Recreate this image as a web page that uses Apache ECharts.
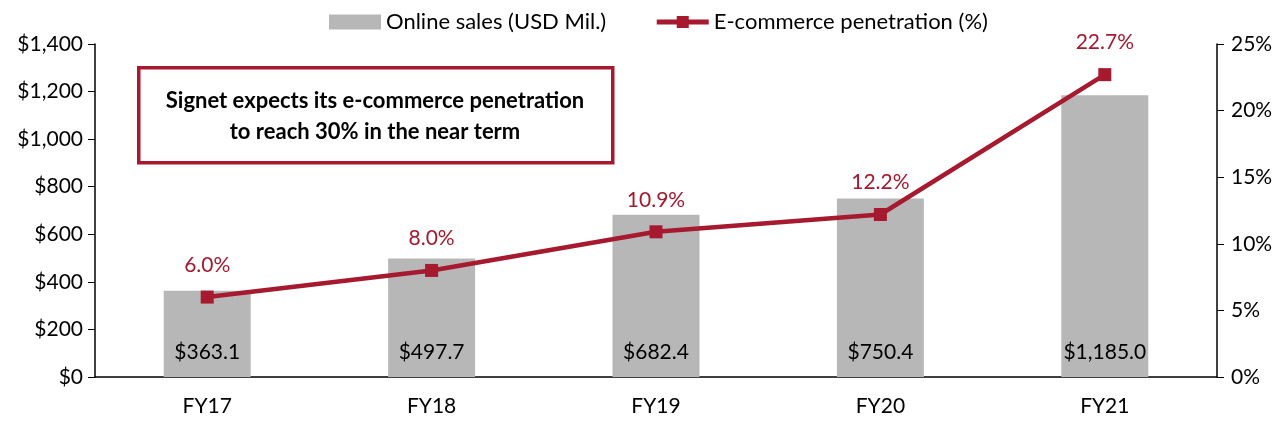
<!DOCTYPE html>
<html><head><meta charset="utf-8">
<script src="https://cdn.jsdelivr.net/npm/echarts@6/dist/echarts.min.js"></script>
<style>html,body{margin:0;padding:0;background:#fff}#c{width:1288px;height:426px}</style>
</head><body><div id="c"></div>
<script>
const categories = ['FY17','FY18','FY19','FY20','FY21'];
const onlineSales = [363.1, 497.7, 682.4, 750.4, 1185.0];
const penetration = [6.0, 8.0, 10.9, 12.2, 22.7];
const seriesNames = ['Online sales (USD Mil.)', 'E-commerce penetration (%)'];
const noteLines = ['Signet expects its e-commerce penetration', 'to reach 30% in the near term'];

const FONT = 'Lato, "Open Sans", sans-serif';
const RED = '#A6192E';
const chart = echarts.init(document.getElementById('c'));
chart.setOption({
  animation: false,
  textStyle: {fontFamily: FONT},
  grid: {left: 95, right: 71, top: 44, bottom: 49},
  legend: {
    top: 6, left: 324, itemGap: 48, itemWidth: 52, itemHeight: 15,
    textStyle: {fontSize: 22, color: '#000', fontFamily: FONT},
    data: [
      {name: seriesNames[0], icon: 'rect'},
      {name: seriesNames[1], lineStyle: {width: 5, color: RED}, itemStyle: {color: RED}}
    ]
  },
  xAxis: {
    type: 'category', data: categories,
    axisLine: {lineStyle: {color: '#000', width: 1.5}},
    axisTick: {show: false},
    axisLabel: {color: '#000', fontSize: 21, margin: 19, fontFamily: FONT}
  },
  yAxis: [
    {type: 'value', min: 0, max: 1400, interval: 200,
     axisLine: {show: true, lineStyle: {color: '#000', width: 1.5}},
     axisTick: {show: true, length: 7, lineStyle: {color: '#000'}},
     splitLine: {show: false},
     axisLabel: {color: '#000', fontSize: 21, margin: 12, fontFamily: FONT,
       formatter: v => '$' + v.toLocaleString('en-US')}},
    {type: 'value', min: 0, max: 25, interval: 5,
     axisLine: {show: true, lineStyle: {color: '#000', width: 1.5}},
     axisTick: {show: true, length: 7, lineStyle: {color: '#000'}},
     splitLine: {show: false},
     axisLabel: {color: '#000', fontSize: 21, margin: 14, fontFamily: FONT,
       formatter: v => v + '%'}}
  ],
  series: [
    {name: seriesNames[0], type: 'bar', data: onlineSales, barWidth: 87,
     itemStyle: {color: '#b7b7b7'},
     label: {show: true, position: 'insideBottom', distance: 14, color: '#000', fontSize: 21, fontFamily: FONT,
       formatter: p => '$' + p.value.toLocaleString('en-US', {minimumFractionDigits: 1, maximumFractionDigits: 1})}},
    {name: seriesNames[1], type: 'line', yAxisIndex: 1, data: penetration,
     symbol: 'rect', symbolSize: 13,
     lineStyle: {color: RED, width: 4.5}, itemStyle: {color: RED},
     label: {show: true, position: 'top', distance: 15, color: RED, fontSize: 21, fontFamily: FONT,
       formatter: p => p.value.toFixed(1) + '%'}}
  ],
  graphic: [
    {type: 'rect', left: 137, top: 66, shape: {width: 474, height: 95},
     style: {fill: '#fff', stroke: RED, lineWidth: 3.5}, z: 10},
    {type: 'text', x: 375, y: 116, z: 11,
     style: {text: noteLines.join('\n'), fill: '#000', fontSize: 22, fontWeight: 'bold', fontFamily: FONT,
       textAlign: 'center', textVerticalAlign: 'middle', lineHeight: 31}}
  ]
});
</script></body></html>
